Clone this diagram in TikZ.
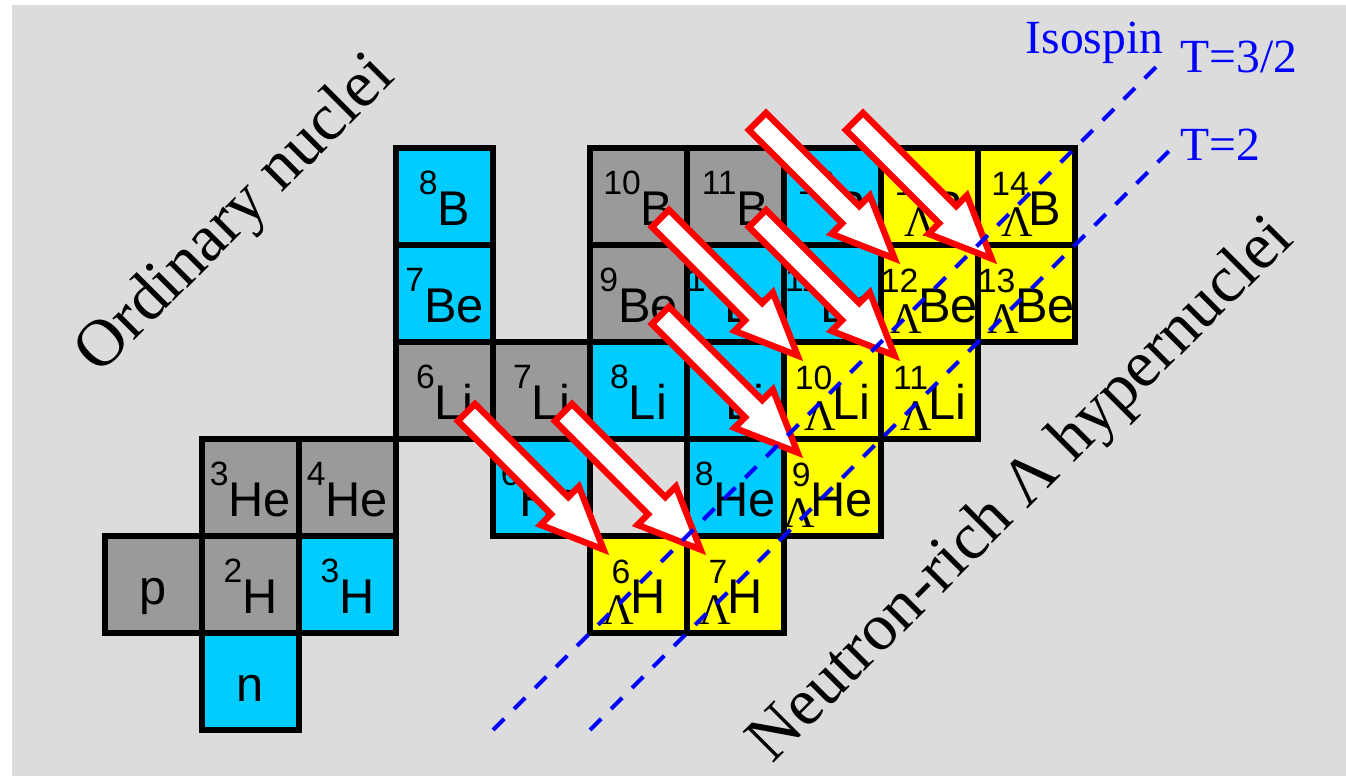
\documentclass[tikz,border=0pt]{standalone}
\usepackage{fontspec}
\setmainfont{Liberation Serif}
\setsansfont{Liberation Sans}
\usepackage{xcolor}
\usepackage{tikz}
\usetikzlibrary{positioning}

\definecolor{bggray}{HTML}{DCDCDC}
\definecolor{stablegray}{HTML}{9A9A9A}
\definecolor{unstablecyan}{HTML}{00CCFF}
\definecolor{hyperyellow}{HTML}{FFFF00}

\newcommand{\nuc}[2]{\makebox[0pt]{\sffamily\raisebox{7.6pt}{\fontsize{8.5}{10}\selectfont #1}\fontsize{12.3}{14}\selectfont #2}}
\newcommand{\hnuc}[2]{\makebox[0pt]{\sffamily\raisebox{7.4pt}{\fontsize{8.5}{10}\selectfont #1}\llap{\raisebox{-2.8pt}{\rmfamily\fontsize{11}{12}\selectfont Λ}\kern-1pt}\fontsize{12.3}{14}\selectfont #2}}
\newcommand{\hyparrow}[1]{%
  \begin{scope}[shift={(#1.north west)}, shift={(0.14,-0.14)}, rotate=-45]
    \draw[bigarrow] (0,0) -- (-0.64,0.28) -- (-0.64,0.125) -- (-2.0,0.125) -- (-2.0,-0.125) -- (-0.64,-0.125) -- (-0.64,-0.28) -- cycle;
  \end{scope}}

\begin{document}
\begin{tikzpicture}[
  x=0.86cm, y=0.86cm,
  node distance=0pt,
  cell/.style={draw=black, line width=1.3pt, minimum size=0.86cm, inner sep=0pt, outer sep=0pt, text height=14.4pt, text depth=0pt},
  stable/.style={cell, fill=stablegray},
  unstable/.style={cell, fill=unstablecyan},
  hyper/.style={cell, fill=hyperyellow},
  nucleon/.style={text height=9.9pt, font=\sffamily\fontsize{12.3}{14}\selectfont},
  bigarrow/.style={draw=red, fill=white, line width=1.6pt},
  isoline/.style={blue, line width=1pt, dash pattern=on 4pt off 3.5pt},
  isolabel/.style={text=blue, font=\fontsize{12}{14}\selectfont, inner sep=0pt, anchor=base west},
  region/.style={font=\fontsize{16.8}{19}\selectfont, rotate=45, inner sep=0pt}
]
\useasboundingbox (-1.0825,-0.4742) rectangle (12.7938,7.5258);
\fill[bggray] (-0.9588,-0.4742) rectangle (12.7938,7.4742);

\node[stable, nucleon] (p) at (0.5,1.5) {p};
\node[stable, right=of p] (H2) {\nuc{2}{H}};
\node[unstable, right=of H2] (H3) {\nuc{3}{H}};
\node[unstable, nucleon, below=of H2] (n) {n};
\node[stable, above=of H2] (He3) {\nuc{3}{He}};
\node[stable, right=of He3] (He4) {\nuc{4}{He}};

\node[stable] (Li6) at (3.5,3.5) {\nuc{6}{Li}};
\node[stable, right=of Li6] (Li7) {\nuc{7}{Li}};
\node[unstable, right=of Li7] (Li8) {\nuc{8}{Li}};
\node[unstable, right=of Li8] (Li9) {\nuc{9}{Li}};
\node[hyper, right=of Li9] (LLi10) {\hnuc{10}{Li}};
\node[hyper, right=of LLi10] (LLi11) {\hnuc{11}{Li}};

\node[unstable, above=of Li6] (Be7) {\nuc{7}{Be}};
\node[unstable, above=of Be7] (B8) {\nuc{8}{B}};
\node[stable, above=of Li8] (Be9) {\nuc{9}{Be}};
\node[unstable, right=of Be9] (Be10) {\nuc{10}{Be}};
\node[unstable, right=of Be10] (Be11) {\nuc{11}{Be}};
\node[hyper, right=of Be11] (LBe12) {\hnuc{12}{Be}};
\node[hyper, right=of LBe12] (LBe13) {\hnuc{13}{Be}};

\node[stable, above=of Be9] (B10) {\nuc{10}{B}};
\node[stable, right=of B10] (B11) {\nuc{11}{B}};
\node[unstable, right=of B11] (B12) {\nuc{12}{B}};
\node[hyper, right=of B12] (LB13) {\hnuc{13}{B}};
\node[hyper, right=of LB13] (LB14) {\hnuc{14}{B}};

\node[unstable, below=of Li7] (He6) {\nuc{6}{He}};
\node[unstable, below=of Li9] (He8) {\nuc{8}{He}};
\node[hyper, right=of He8] (LHe9) {\hnuc{9}{He}};
\node[hyper, below=of He8] (LH7) {\hnuc{7}{H}};
\node[hyper, left=of LH7] (LH6) {\hnuc{6}{H}};

\hyparrow{LH6}
\hyparrow{LH7}
\hyparrow{LHe9}
\hyparrow{LLi10}
\hyparrow{LLi11}
\hyparrow{LBe12}
\hyparrow{LBe13}

\coordinate (iso32lo) at (4,0);
\coordinate (iso32hi) at (10.88,6.88);
\coordinate (iso2lo) at (5,0);
\coordinate (iso2hi) at (11,6);
\draw[isoline] (iso32lo) -- (iso32hi);
\draw[isoline] (iso2lo) -- (iso2hi);

\node[isolabel] (isospin) at (9.485,6.979) {Isospin};
\node[isolabel] (T32) at (11.082,6.773) {T=3/2};
\node[isolabel] (T2) at (11.082,5.876) {T=2};

\node[region] (ordinary) at (1.36,5.30) {Ordinary nuclei};
\node[region] (hyperrich) at (9.46,2.46) {Neutron-rich Λ hypernuclei};
\end{tikzpicture}
\end{document}
